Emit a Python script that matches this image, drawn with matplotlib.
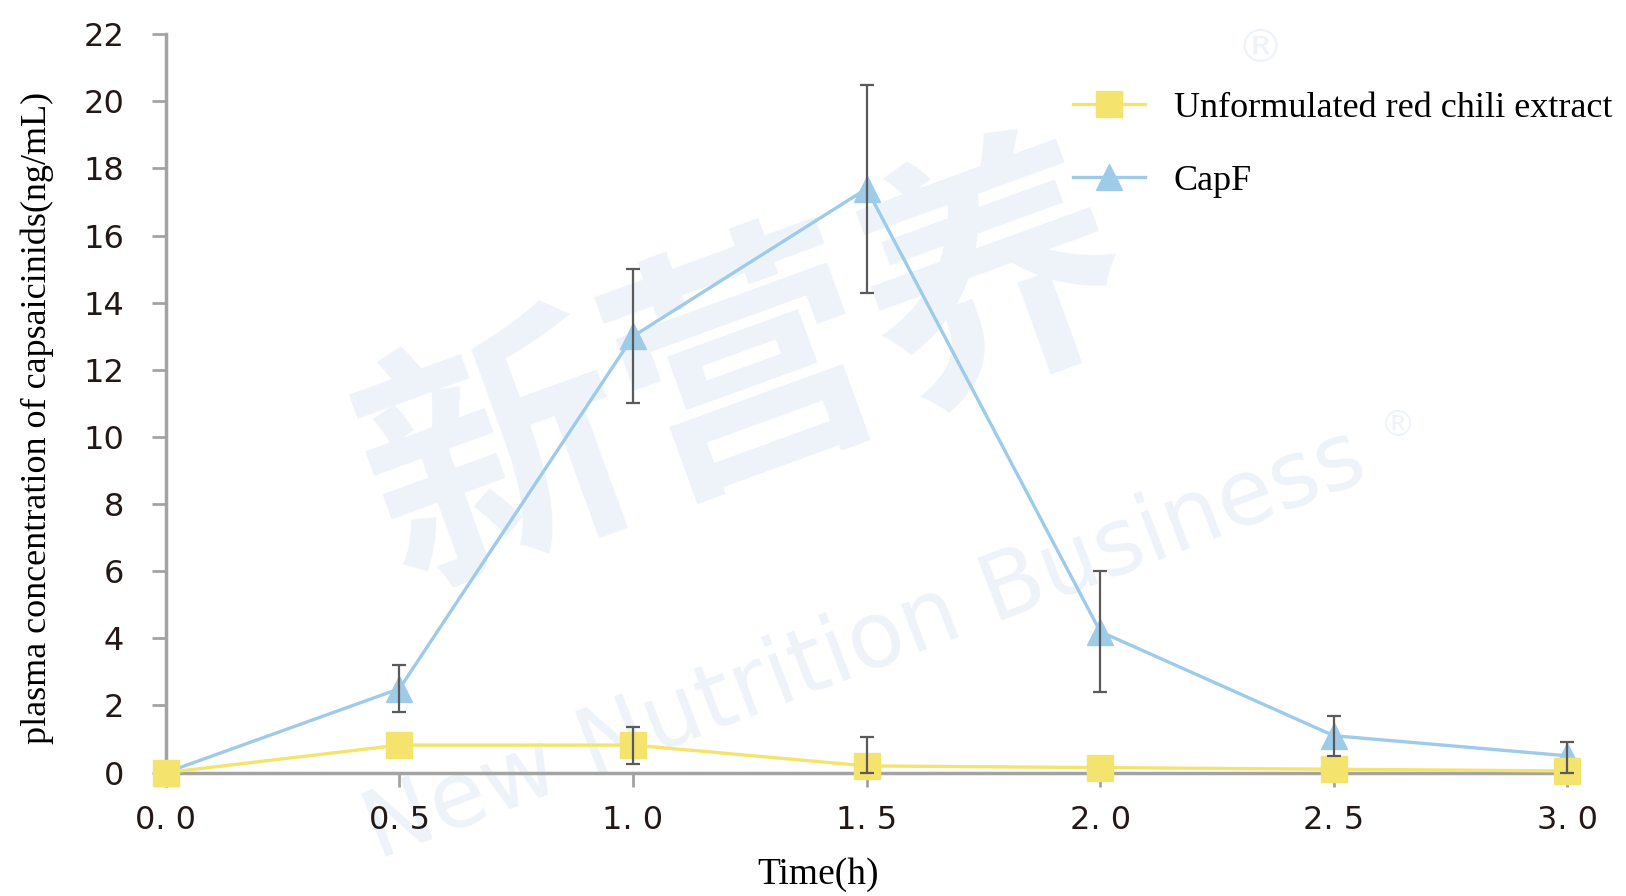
import matplotlib
matplotlib.use("Agg")
import matplotlib.pyplot as plt

# time points (h)
time_h = [0.0, 0.5, 1.0, 1.5, 2.0, 2.5, 3.0]

# unformulated red chili extract
extract_mean = [0.0, 0.82, 0.82, 0.2, 0.15, 0.1, 0.05]
extract_err_low = [0.0, 0.0, 0.55, 0.2, 0.0, 0.0, 0.0]
extract_err_high = [0.0, 0.0, 0.55, 0.85, 0.0, 0.0, 0.0]

# CapF
capf_mean = [0.0, 2.5, 13.0, 17.4, 4.2, 1.1, 0.5]
capf_err_low = [0.0, 0.7, 2.0, 3.1, 1.8, 0.6, 0.5]
capf_err_high = [0.0, 0.7, 2.0, 3.1, 1.8, 0.6, 0.4]

xticks = [0.0, 0.5, 1.0, 1.5, 2.0, 2.5, 3.0]
xtick_labels = ["0. 0", "0. 5", "1. 0", "1. 5", "2. 0", "2. 5", "3. 0"]
yticks = list(range(0, 23, 2))

yellow = "#F4E36C"
blue = "#9DCBE8"
axis_grey = "#A3A3A3"
err_grey = "#5A5A5A"
mark_col = "#EDF3F9"

fig = plt.figure(figsize=(16.26, 8.96), dpi=100)
ax = fig.add_axes([0.102, 0.1377, 0.862, 0.8241])
ax.set_zorder(2)
ax.patch.set_alpha(0)

# faint watermark behind the chart
fig.text(0.46, 0.58, "新营养", fontsize=190, color=mark_col, rotation=20,
         ha="center", va="center", family=["Noto Sans CJK SC", "DejaVu Sans"],
         fontweight="bold", zorder=0)
fig.text(0.532, 0.28, "New Nutrition Business", fontsize=66, color=mark_col,
         rotation=21, ha="center", va="center", family="DejaVu Sans", zorder=0)
fig.text(0.775, 0.945, "®", fontsize=34, color=mark_col, ha="center", va="center", zorder=0)
fig.text(0.86, 0.525, "®", fontsize=26, color=mark_col, ha="center", va="center", zorder=0)

ax.plot(time_h, capf_mean, color=blue, lw=2.4, marker="^", ms=19,
        mec=blue, mfc=blue, label="CapF", zorder=3, clip_on=False)
ax.plot(time_h, extract_mean, color=yellow, lw=2.4, marker="s", ms=19,
        mec=yellow, mfc=yellow, label="Unformulated red chili extract",
        zorder=4, clip_on=False)

for mean, lo, hi in [(capf_mean, capf_err_low, capf_err_high),
                     (extract_mean, extract_err_low, extract_err_high)]:
    keep = [i for i in range(len(mean)) if hi[i] > 0]
    ax.errorbar([time_h[i] for i in keep], [mean[i] for i in keep],
                yerr=[[lo[i] for i in keep], [hi[i] for i in keep]],
                fmt="none", ecolor=err_grey, elinewidth=1.6,
                capsize=5, capthick=1.6, zorder=5, clip_on=False)

ax.set_xlim(0, 3.0)
ax.set_ylim(0, 22)
ax.set_xticks(xticks)
ax.set_xticklabels(xtick_labels)
ax.set_yticks(yticks)

for side in ["top", "right"]:
    ax.spines[side].set_visible(False)
for side in ["left", "bottom"]:
    ax.spines[side].set_color(axis_grey)
    ax.spines[side].set_linewidth(2.5)

ax.tick_params(axis="both", colors=axis_grey, width=2, length=10,
               labelcolor="#231815", labelsize=23)
ax.tick_params(axis="x", pad=13)
ax.tick_params(axis="y", pad=20)

ax.set_xlabel("Time(h)", family="Liberation Serif", fontsize=27)
ax.xaxis.set_label_coords(0.465, -0.115)
ax.set_ylabel("plasma concentration of capsaicinids(ng/mL)",
              family="Liberation Serif", fontsize=26)
ax.yaxis.set_label_coords(-0.08, 0.48)

handles, labels = ax.get_legend_handles_labels()
ax.legend(handles[::-1], labels[::-1], loc="upper left",
          bbox_to_anchor=(0.647, 0.922), frameon=False,
          borderpad=0, borderaxespad=0,
          prop={"family": "Liberation Serif", "size": 26},
          handlelength=2.0, labelspacing=1.1, handletextpad=0.8)

fig.savefig("out.png", dpi=100)
